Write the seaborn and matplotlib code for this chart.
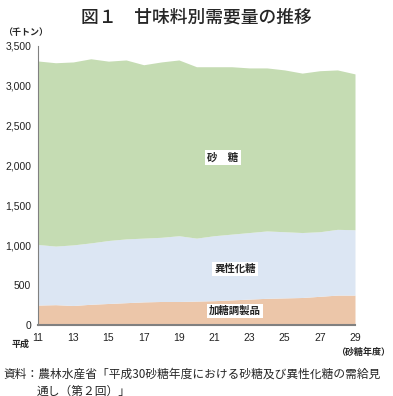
import numpy as np
import pandas as pd
import seaborn as sns
import matplotlib.pyplot as plt

# 砂糖年度 (平成)
years = list(range(11, 30))
# 千トン
kato = [250, 255, 245, 260, 270, 280, 290, 295, 295, 300, 305, 315, 325, 335, 340, 345, 360, 375, 375]
iseika_top = [1010, 990, 1005, 1030, 1060, 1080, 1090, 1100, 1120, 1090, 1120, 1140, 1160, 1180, 1170, 1160, 1170, 1200, 1195]
total = [3312, 3290, 3300, 3340, 3310, 3325, 3265, 3300, 3325, 3240, 3240, 3240, 3225, 3225, 3200, 3160, 3190, 3200, 3150]

df = pd.DataFrame({"year": years, "加糖調製品": kato})
df["異性化糖"] = np.array(iseika_top) - np.array(kato)
df["砂糖"] = np.array(total) - np.array(iseika_top)

sns.set_theme(style="white")
plt.rcParams["font.family"] = ["Noto Sans CJK JP", "DejaVu Sans"]

fig = plt.figure(figsize=(3.93, 3.96), dpi=100)
ax = fig.add_axes([38 / 393, 1 - 325 / 396, (355 - 38) / 393, (325 - 46) / 396])

colors = ["#ecc6a9", "#dce6f3", "#c5dcb3"]
ax.stackplot(df["year"], df["加糖調製品"], df["異性化糖"], df["砂糖"], colors=colors, linewidth=0)

ax.set_xlim(11, 29)
ax.set_ylim(0, 3500)
ax.set_xticks(range(11, 30, 2))
ax.set_xticks(range(11, 30), minor=True)
ax.set_yticks(range(0, 3501, 500))
ax.set_yticklabels([f"{v:,}" for v in range(0, 3501, 500)])
for s in ["top", "right"]:
    ax.spines[s].set_visible(False)
for s in ["left", "bottom"]:
    ax.spines[s].set_color("#808080")
ax.spines["bottom"].set_linewidth(1.5)
ax.spines["left"].set_linewidth(0.8)
ax.tick_params(axis="y", direction="out", length=3, width=0.8, color="#808080",
               labelsize=7.5, pad=2, labelcolor="#222222")
ax.tick_params(axis="x", which="both", direction="in", length=3, width=0.8,
               color="#808080", labelsize=7.5, pad=6, labelcolor="#222222")
for lab in ax.get_xticklabels() + ax.get_yticklabels():
    lab.set_family(["Liberation Sans", "DejaVu Sans"])

box = dict(facecolor="white", edgecolor="none", pad=1.5)
ax.text(21.5, 2100, "砂　糖", fontsize=7.5, ha="center", va="center", bbox=box, weight="bold")
ax.text(22.2, 700, "異性化糖", fontsize=7.5, ha="center", va="center", bbox=box, weight="bold")
ax.text(22.2, 175, "加糖調製品", fontsize=7.5, ha="center", va="center", bbox=box, weight="bold")

fig.text(0.5, 1 - 17 / 396, "図１　甘味料別需要量の推移", fontsize=12.8,
         ha="center", va="center", weight="medium")
fig.text(3 / 393, 1 - 33 / 396, "（千トン）", fontsize=6.5, ha="left", va="center", weight="bold")
fig.text(12 / 393, 1 - 344 / 396, "平成", fontsize=6.5, ha="left", va="center", weight="bold")
fig.text(390 / 393, 1 - 352 / 396, "（砂糖年度）", fontsize=6.5, ha="right", va="center", weight="bold")
fig.text(3 / 393, 1 - 374 / 396,
         "資料：農林水産省「平成30砂糖年度における砂糖及び異性化糖の需給見",
         fontsize=8.45, ha="left", va="center")
fig.text(37 / 393, 1 - 391 / 396, "通し（第２回）」", fontsize=8.45, ha="left", va="center")

fig.savefig("out.png", dpi=100)
